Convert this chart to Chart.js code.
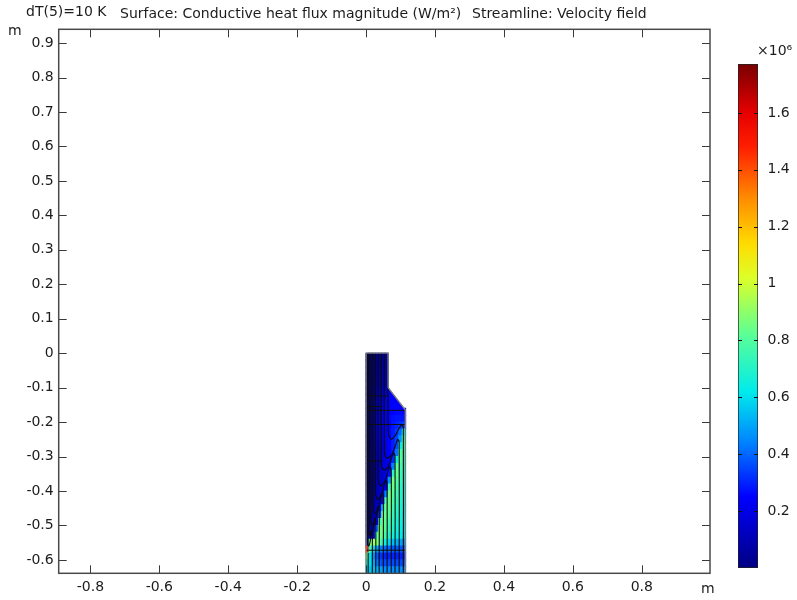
<!DOCTYPE html>
<html>
<head>
<meta charset="utf-8">
<style>
  html, body { margin: 0; padding: 0; background: #fff; }
  #wrap { position: relative; width: 797px; height: 600px; }
  canvas { position: absolute; left: 0; top: 0; }
</style>
<script src="https://cdn.jsdelivr.net/npm/chart.js@4/dist/chart.umd.min.js"></script>
</head>
<body>
<div id="wrap">
  <canvas id="plot" width="797" height="600"></canvas>
  <canvas id="bar" width="797" height="600"></canvas>
</div>
<script>
const xTicks = [-0.8, -0.6, -0.4, -0.2, 0, 0.2, 0.4, 0.6, 0.8];
const xTickLabels = ["-0.8", "-0.6", "-0.4", "-0.2", "0", "0.2", "0.4", "0.6", "0.8"];
const yTicks = [0.9, 0.8, 0.7, 0.6, 0.5, 0.4, 0.3, 0.2, 0.1, 0, -0.1, -0.2, -0.3, -0.4, -0.5, -0.6];
const yTickLabels = ["0.9", "0.8", "0.7", "0.6", "0.5", "0.4", "0.3", "0.2", "0.1", "0", "-0.1", "-0.2", "-0.3", "-0.4", "-0.5", "-0.6"];
const barTicks = [1.6, 1.4, 1.2, 1, 0.8, 0.6, 0.4, 0.2];
const barTickLabels = ["1.6", "1.4", "1.2", "1", "0.8", "0.6", "0.4", "0.2"];

// colour table: value (x10^6), then r, g, b
const colorStops = [
  [0, 0, 0, 130], [0.25, 0, 0, 255], [0.44, 0, 130, 255], [0.62, 0, 235, 235],
  [0.82, 90, 255, 150], [1.02, 220, 255, 40], [1.14, 255, 220, 0], [1.3, 255, 140, 0],
  [1.48, 255, 30, 0], [1.6, 230, 0, 0], [1.772, 120, 0, 0],
];

// heat flux cells, values in 10^6 W/m2
const cellX = [0.0046, 0.0137, 0.0229, 0.032, 0.0411, 0.0503, 0.0594, 0.0691, 0.0793, 0.0895, 0.0997, 0.1099];
const cellY = [-0.01, -0.03, -0.05, -0.07, -0.09, -0.11, -0.13, -0.15, -0.17, -0.19, -0.21, -0.23, -0.25, -0.27, -0.29, -0.31,
  -0.33, -0.35, -0.37, -0.39, -0.41, -0.43, -0.45, -0.47, -0.49, -0.51, -0.53, -0.55, -0.57, -0.59, -0.61, -0.63];
const cellValues = [
  [.01, .02, .02, .03, .03, .04, .05],
  [.01, .02, .02, .03, .03, .04, .05],
  [.01, .02, .03, .03, .04, .05, .06],
  [.02, .02, .03, .04, .05, .06, .07],
  [.02, .03, .03, .04, .05, .07, .08],
  [.02, .03, .05, .07, .09, .11, .14],
  [.03, .04, .06, .08, .11, .14, .17],
  [.03, .05, .07, .10, .13, .16, .20],
  [.04, .05, .08, .11, .14, .18, .22, .25, .25, .26, .26, .26],
  [.04, .06, .08, .12, .15, .19, .23, .26, .27, .28, .28, .28],
  [.04, .06, .09, .13, .17, .20, .23, .25, .28, .30, .32, .34],
  [.04, .06, .09, .13, .16, .20, .23, .26, .29, .33, .40, .62],
  [.04, .05, .08, .12, .16, .19, .22, .25, .29, .34, .48, .76],
  [.03, .05, .08, .11, .15, .18, .21, .25, .29, .36, .62, .78],
  [.03, .05, .07, .10, .14, .17, .20, .24, .29, .42, .80, .76],
  [.03, .05, .07, .10, .13, .16, .19, .24, .31, .65, .82, .74],
  [.03, .05, .07, .09, .13, .16, .19, .24, .44, .83, .78, .72],
  [.03, .04, .07, .09, .12, .15, .19, .27, .72, .84, .76, .70],
  [.03, .04, .06, .09, .12, .15, .20, .48, .86, .80, .74, .70],
  [.03, .04, .06, .09, .12, .15, .25, .75, .84, .78, .72, .68],
  [.03, .04, .06, .09, .12, .18, .45, .86, .80, .76, .70, .68],
  [.03, .04, .06, .09, .13, .24, .80, .84, .78, .74, .70, .66],
  [.03, .04, .06, .10, .18, .58, .86, .82, .76, .72, .68, .66],
  [.03, .04, .06, .11, .32, .85, .84, .80, .74, .70, .68, .64],
  [.03, .04, .08, .18, .74, .85, .82, .76, .72, .68, .66, .64],
  [.03, .05, .12, .42, .86, .84, .80, .74, .70, .66, .64, .62],
  [.03, .08, .20, .82, .86, .82, .76, .70, .66, .64, .62, .60],
  [.10, .88, .92, .88, .80, .72, .64, .58, .54, .52, .50, .48],
  [1.5, .75, .58, .50, .44, .42, .40, .40, .38, .38, .38, .38],
  [.85, .60, .46, .38, .33, .31, .30, .30, .30, .30, .30, .30],
  [.70, .60, .50, .42, .38, .36, .36, .36, .36, .36, .36, .36],
  [.58, .56, .54, .52, .50, .48, .46, .46, .46, .46, .46, .46],
];

// domain outline and the plain blue shoulder under the step
const domainEdge = [[0, 0], [0.064, 0], [0.064, -0.1], [0.114, -0.165], [0.114, -0.64], [0, -0.64], [0, 0]];
const shoulder = [[0.064, -0.1], [0.114, -0.165], [0.064, -0.165]];

// horizontal mesh lines
const meshLines = [
  [[0, -0.124], [0.064, -0.124]],
  [[0, -0.155], [0.046, -0.155]],
  [[0, -0.166], [0.114, -0.166]],
  [[0, -0.207], [0.114, -0.207]],
  [[0, -0.313], [0.046, -0.313]],
  [[0, -0.572], [0.114, -0.572]],
];

// streamlines, each one down the left side, round the hook, down the right side
const streamlines = [
  [[0.064, -0.1], [0.064, -0.22], [0.066, -0.24], [0.074, -0.25], [0.085, -0.238], [0.096, -0.218], [0.103, -0.208], [0.108, -0.214], [0.108, -0.64]],
  [[0.053, 0], [0.053, -0.285], [0.056, -0.3], [0.064, -0.305], [0.076, -0.292], [0.087, -0.262], [0.092, -0.25], [0.096, -0.258], [0.096, -0.64]],
  [[0.044, 0], [0.044, -0.32], [0.047, -0.335], [0.053, -0.34], [0.065, -0.328], [0.076, -0.298], [0.08, -0.29], [0.084, -0.298], [0.084, -0.64]],
  [[0.035, 0], [0.035, -0.365], [0.038, -0.38], [0.043, -0.385], [0.055, -0.372], [0.065, -0.338], [0.069, -0.33], [0.073, -0.338], [0.073, -0.64]],
  [[0.027, 0], [0.027, -0.405], [0.03, -0.42], [0.034, -0.425], [0.045, -0.41], [0.054, -0.378], [0.058, -0.37], [0.061, -0.378], [0.061, -0.64]],
  [[0.02, 0], [0.02, -0.445], [0.022, -0.46], [0.026, -0.465], [0.036, -0.45], [0.044, -0.413], [0.047, -0.405], [0.05, -0.413], [0.05, -0.64]],
  [[0.014, 0], [0.014, -0.485], [0.016, -0.497], [0.019, -0.5], [0.027, -0.485], [0.033, -0.452], [0.035, -0.445], [0.038, -0.452], [0.038, -0.64]],
  [[0.009, 0], [0.009, -0.52], [0.011, -0.528], [0.013, -0.53], [0.019, -0.515], [0.024, -0.486], [0.025, -0.48], [0.028, -0.486], [0.028, -0.64]],
  [[0.005, 0], [0.005, -0.55], [0.006, -0.557], [0.008, -0.56], [0.012, -0.545], [0.014, -0.52], [0.015, -0.515], [0.018, -0.52], [0.018, -0.64]],
  [[0.006, -0.58], [0.006, -0.64]],
];

function colorFor(v) {
  let i = 1;
  while (i < colorStops.length - 1 && colorStops[i][0] < v) i++;
  const a = colorStops[i - 1], b = colorStops[i];
  const t = Math.max(0, Math.min(1, (v - a[0]) / (b[0] - a[0])));
  const mix = (k) => Math.round(a[k] + (b[k] - a[k]) * t);
  return `rgb(${mix(1)},${mix(2)},${mix(3)})`;
}

function toPoints(pairs) {
  return pairs.map(([x, y]) => ({ x, y }));
}

const cells = [];
const cellColors = [];
cellX.forEach((x, col) => {
  cellY.forEach((y, row) => {
    const v = cellValues[row][col];
    if (v === undefined) return;
    cells.push({ x, y: [y + 0.0105, y - 0.0105] });
    cellColors.push(colorFor(v));
  });
});

const TEXT = "#1c1c1c";
const FONT = "14px 'DejaVu Sans'";

function lineSet(pairs, color, width, order, extra) {
  return Object.assign({
    type: "line", data: toPoints(pairs), borderColor: color, borderWidth: width,
    pointRadius: 0, fill: false, tension: 0, order,
  }, extra);
}

const frame = {
  id: "frame",
  afterDatasetsDraw(chart) {
    const { ctx, chartArea: a, scales } = chart;
    ctx.save();
    ctx.strokeStyle = "#3a3a3a";
    ctx.lineWidth = 1;
    xTicks.forEach((t) => {
      const p = Math.round(scales.x.getPixelForValue(t)) + 0.5;
      ctx.beginPath();
      ctx.moveTo(p, a.top); ctx.lineTo(p, a.top + 8);
      ctx.moveTo(p, a.bottom); ctx.lineTo(p, a.bottom - 8);
      ctx.stroke();
    });
    yTicks.forEach((t) => {
      const p = Math.round(scales.y.getPixelForValue(t)) + 0.5;
      ctx.beginPath();
      ctx.moveTo(a.left, p); ctx.lineTo(a.left + 8, p);
      ctx.moveTo(a.right, p); ctx.lineTo(a.right - 8, p);
      ctx.stroke();
    });
    ctx.lineWidth = 1.5;
    ctx.strokeStyle = "#4a4a4a";
    ctx.strokeRect(a.left, a.top, a.right - a.left, a.bottom - a.top);
    ctx.fillStyle = TEXT;
    ctx.font = FONT;
    ctx.textBaseline = "middle";
    ctx.textAlign = "left";
    ctx.fillText("dT(5)=10 K", 26, 12);
    ctx.fillText("Surface: Conductive heat flux magnitude (W/m²)", 120, 14);
    ctx.fillText("Streamline: Velocity field", 472, 14);
    ctx.fillText("m", 8, 31);
    ctx.fillText("m", 701, 589);
    ctx.restore();
  },
};

new Chart(document.getElementById("plot"), {
  type: "bar",
  data: {
    datasets: [
      { type: "bar", data: cells, backgroundColor: cellColors, barThickness: 3.7, order: 5 },
      lineSet(shoulder, "#0000ff", 0, 4, { fill: "shape", backgroundColor: "#0000ff" }),
      ...meshLines.map((l) => lineSet(l, "#101010", 1, 3)),
      ...streamlines.map((l) => lineSet(l, "#0a0a0a", 1.1, 2, { tension: 0.25 })),
      lineSet(domainEdge, "#7c7c7c", 1.4, 1),
    ],
  },
  options: {
    responsive: false,
    animation: false,
    layout: { padding: { left: 0, top: 29.3, right: 87, bottom: 0 } },
    plugins: { legend: { display: false }, tooltip: { enabled: false }, title: { display: false } },
    scales: {
      x: {
        type: "linear", min: -0.892, max: 0.998, offset: false,
        grid: { display: false, drawTicks: false }, border: { display: false },
        afterBuildTicks: (s) => { s.ticks = xTicks.map((value) => ({ value })); },
        afterFit: (s) => { s.height = 26.7; },
        ticks: {
          color: TEXT, font: { family: "DejaVu Sans", size: 14 }, padding: 6, maxRotation: 0, autoSkip: false,
          callback: (v) => xTickLabels[xTicks.indexOf(v)],
        },
      },
      y: {
        type: "linear", min: -0.639, max: 0.94,
        grid: { display: false, drawTicks: false }, border: { display: false },
        afterBuildTicks: (s) => { s.ticks = yTicks.map((value) => ({ value })); },
        afterFit: (s) => { s.width = 58.7; },
        ticks: {
          color: TEXT, font: { family: "DejaVu Sans", size: 14 }, padding: 5, autoSkip: false,
          callback: (v) => yTickLabels[yTicks.indexOf(v)],
        },
      },
    },
  },
  plugins: [frame],
});

const barFrame = {
  id: "barFrame",
  afterDatasetsDraw(chart) {
    const { ctx, chartArea: a, scales } = chart;
    ctx.save();
    ctx.strokeStyle = "#111";
    ctx.lineWidth = 1;
    barTicks.forEach((t) => {
      const p = Math.round(scales.y.getPixelForValue(t)) + 0.5;
      ctx.beginPath();
      ctx.moveTo(a.left, p); ctx.lineTo(a.left + 4, p);
      ctx.moveTo(a.right, p); ctx.lineTo(a.right - 4, p);
      ctx.stroke();
    });
    ctx.fillStyle = TEXT;
    ctx.font = FONT;
    ctx.textAlign = "left";
    ctx.textBaseline = "middle";
    ctx.fillText("×10⁶", 757, 51);
    ctx.restore();
  },
};

new Chart(document.getElementById("bar"), {
  type: "bar",
  data: {
    labels: ["flux"],
    datasets: [{
      data: [[0, 1.772]],
      barPercentage: 1,
      categoryPercentage: 1,
      borderColor: "#222",
      borderWidth: 1,
      borderSkipped: false,
      backgroundColor(ctx) {
        const { chart } = ctx;
        if (!chart.chartArea) return "#00f";
        const y = chart.scales.y;
        const g = chart.ctx.createLinearGradient(0, y.getPixelForValue(0), 0, y.getPixelForValue(1.772));
        colorStops.forEach((s) => g.addColorStop(s[0] / 1.772, `rgb(${s[1]},${s[2]},${s[3]})`));
        return g;
      },
    }],
  },
  options: {
    responsive: false,
    animation: false,
    layout: { padding: { left: 738, top: 64, right: 0, bottom: 32 } },
    plugins: { legend: { display: false }, tooltip: { enabled: false } },
    scales: {
      x: { display: false },
      y: {
        position: "right", min: 0, max: 1.772,
        grid: { display: false, drawTicks: false }, border: { display: false },
        afterBuildTicks: (s) => { s.ticks = barTicks.map((value) => ({ value })); },
        afterFit: (s) => { s.width = 39; },
        ticks: {
          color: TEXT, font: { family: "DejaVu Sans", size: 14 }, padding: 9.5, autoSkip: false,
          callback: (v) => barTickLabels[barTicks.indexOf(v)],
        },
      },
    },
  },
  plugins: [barFrame],
});
</script>
</body>
</html>
